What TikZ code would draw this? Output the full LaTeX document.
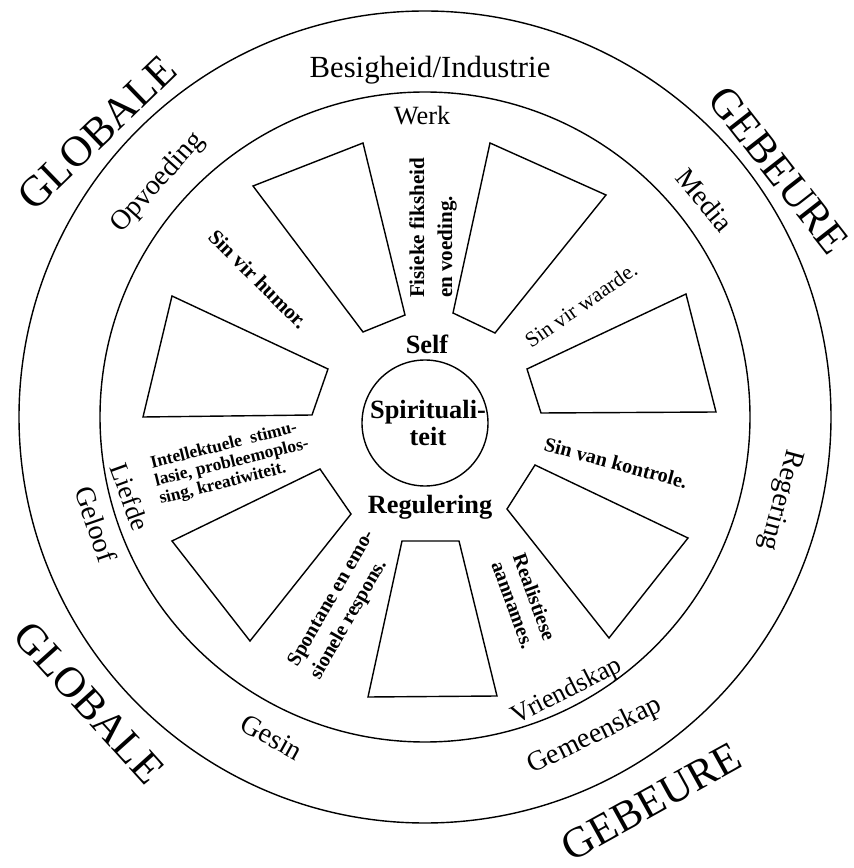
\documentclass[tikz,border=0pt]{standalone}
\usepackage{fontspec}
\setmainfont{Liberation Serif}
\begin{document}
\begin{tikzpicture}[x=0.02cm, y=0.02cm, line width=0.8pt,
    ringtext/.style={font=\fontsize{16}{18}\selectfont},
    innertext/.style={font=\fontsize{15}{17}\selectfont},
    bigtext/.style={font=\fontsize{24.5}{28}\selectfont, inner sep=0pt},
    coretext/.style={font=\bfseries\fontsize{15}{15.5}\selectfont, align=center},
    spoketext/.style={font=\bfseries\fontsize{12}{15}\selectfont, align=left, inner sep=0pt}]
    \useasboundingbox (-425, -451) rectangle (429, 417);
    % rings
    \draw (0, 0) circle (406);
    \draw (0, 0) circle (325);
    \draw (0, -6) circle (63);
    % spokes
    \draw (-62, 274) -- (-172, 231) -- (-62, 85) -- (-20, 102) -- cycle;
    \draw (65, 274) -- (181, 222) -- (70, 84) -- (28, 104) -- cycle;
    \draw (261, 123) -- (291, 5) -- (116, 4) -- (102, 48) -- cycle;
    \draw (-253, 121) -- (-282, 0) -- (-113, 2) -- (-97, 48) -- cycle;
    \draw (-105, -52) -- (-74, -97) -- (-175, -224) -- (-253, -124) -- cycle;
    \draw (-23, -124) -- (34, -124) -- (72, -279) -- (-57, -280) -- cycle;
    \draw (110, -48) -- (82, -92) -- (184, -221) -- (263, -121) -- cycle;
    % outer words
    \node[bigtext, rotate=44] (globtl) at (-328, 284) {GLOBALE};
    \node[bigtext, rotate=-52] (gebtr) at (354, 247) {GEBEURE};
    \node[bigtext, rotate=-48] (globbl) at (-336, -286) {GLOBALE};
    \node[bigtext, rotate=29] (gebbr) at (226, -385) {GEBEURE};
    % outer band
    \node[ringtext, font=\fontsize{17.5}{20}\selectfont] (besig) at (5, 347) {Besigheid/Industrie};
    \node[ringtext, rotate=48] (opvoed) at (-267, 234) {Opvoeding};
    \node[ringtext, rotate=-50] (media) at (280, 217) {Media};
    \node[ringtext, rotate=-105] (reger) at (355, -83) {Regering};
    \node[ringtext, rotate=26] (gemeen) at (170, -319) {Gemeenskap};
    \node[ringtext, rotate=-29] (gesin) at (-153, -320) {Gesin};
    \node[ringtext, rotate=-71] (geloof) at (-329, -107) {Geloof};
    % inner band
    \node[innertext] (werk) at (-3, 301) {Werk};
    \node[innertext, rotate=-70] (liefde) at (-295, -80) {Liefde};
    \node[innertext, rotate=27] (vriend) at (142, -275) {Vriendskap};
    % centre
    \node[coretext] (self) at (2, 73) {Self};
    \node[coretext] (spirit) at (3, -6) {Spirituali-\\teit};
    \node[coretext] (regul) at (5, -90) {Regulering};
    % spoke words
    \node[spoketext, rotate=-45] (humor) at (-167, 138) {Sin vir humor.};
    \node[spoketext, rotate=90, font=\bfseries\fontsize{12}{16}\selectfont] (fisiek) at (8, 189) {Fisieke fiksheid\\en voeding.};
    \node[spoketext, rotate=35, font=\fontsize{12.3}{15}\selectfont] (waarde) at (156, 112) {Sin vir waarde.};
    \node[spoketext, rotate=-15, font=\bfseries\fontsize{11.5}{14}\selectfont] (kontrole) at (191, -46) {Sin van kontrole.};
    \node[spoketext, rotate=-70, font=\bfseries\fontsize{11.5}{13}\selectfont] (realist) at (99, -184) {Realistiese\\aannames.};
    \node[spoketext, rotate=60, font=\bfseries\fontsize{11.5}{14.5}\selectfont] (spontaan) at (-82, -188) {Spontane en emo-\\sionele respons.};
    \node[spoketext, rotate=14, font=\bfseries\fontsize{10}{10.4}\selectfont] (intel) at (-193, -46) {Intellektuele\ \ stimu-\\lasie, probleemoplos-\\sing, kreatiwiteit.};
\end{tikzpicture}
\end{document}
